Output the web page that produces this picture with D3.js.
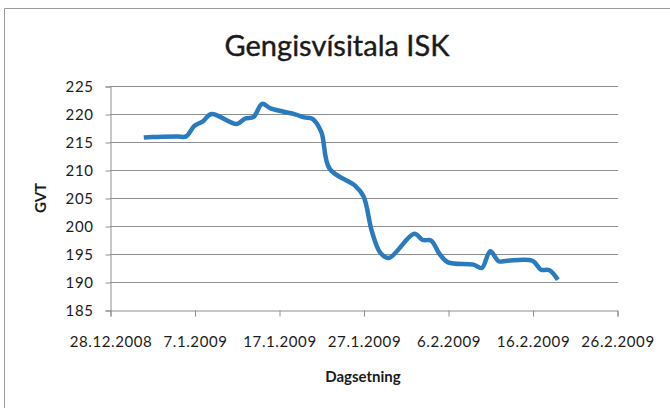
<!DOCTYPE html>
<html><head><meta charset="utf-8">
<script src="https://cdn.jsdelivr.net/npm/d3@7"></script>
<style>
html,body{margin:0;padding:0;background:#fff;}
svg{display:block;}
text{font-family:Lato,"Open Sans",sans-serif;fill:#1a1a1a;}
</style></head>
<body>
<svg id="c" width="670" height="408"></svg>
<script>
const title = "Gengisvísitala ISK";
const xTitle = "Dagsetning";
const yTitle = "GVT";
const dates = ["1.1.2009","2.1.2009","5.1.2009","6.1.2009","7.1.2009","8.1.2009","9.1.2009",
  "12.1.2009","13.1.2009","14.1.2009","15.1.2009","16.1.2009","19.1.2009","20.1.2009","21.1.2009",
  "22.1.2009","23.1.2009","26.1.2009","27.1.2009","28.1.2009","29.1.2009","30.1.2009","2.2.2009",
  "3.2.2009","4.2.2009","5.2.2009","6.2.2009","9.2.2009","10.2.2009","11.2.2009","12.2.2009",
  "13.2.2009","16.2.2009","17.2.2009","18.2.2009","19.2.2009"];
const values = [215.8,215.9,216.0,216.0,217.9,218.7,220.0,
  218.2,219.2,219.5,221.8,221.0,219.9,219.4,219.1,
  216.8,210.2,207.2,205.3,199.0,195.2,194.3,198.6,
  197.5,197.4,195.0,193.5,193.1,192.5,195.5,193.7,
  193.8,193.8,192.2,192.1,190.4];
const xTickLabels = ["28.12.2008","7.1.2009","17.1.2009","27.1.2009","6.2.2009","16.2.2009","26.2.2009"];
const yTickValues = [185,190,195,200,205,210,215,220,225];

const parse = d3.timeParse("%d.%m.%Y");
const fmt = d3.timeFormat("%-d.%-m.%Y");
const data = dates.map((d,i)=>({date:parse(d), v:values[i]}));
const xTicks = xTickLabels.map(parse);

const svg = d3.select("#c");
const L=110, R=617, T=86, B=310;
const x = d3.scaleTime().domain([xTicks[0], xTicks[xTicks.length-1]]).range([L,R]);
const y = d3.scaleLinear().domain([185,225]).range([B,T]);

// chart border (top & left visible)
svg.append("path").attr("d","M4.5,408 V8.5 H670").attr("fill","none").attr("stroke","#9a9a9a").attr("stroke-width",1);

// title
svg.append("text").attr("x",337).attr("y",56).attr("text-anchor","middle")
  .style("font-size","29px").attr("stroke","#1a1a1a").attr("stroke-width",0.4).text(title);

// gridlines
svg.append("g").selectAll("line").data(yTickValues.filter(v=>v>185)).join("line")
  .attr("x1",L).attr("x2",R+1).attr("y1",d=>Math.round(y(d))+0.5).attr("y2",d=>Math.round(y(d))+0.5)
  .attr("stroke","#8e8e8e").attr("stroke-width",1);

// y axis
const yAxis = d3.axisLeft(y).tickValues(yTickValues).tickSize(5).tickPadding(12).tickFormat(d3.format("d"));
const gy = svg.append("g").attr("transform",`translate(${L+0.5},0.5)`).call(yAxis);
gy.select(".domain").attr("stroke","#8e8e8e");
gy.selectAll(".tick line").attr("stroke","#8e8e8e");
gy.selectAll(".tick text").style("font-size","15px").style("letter-spacing","0.6px").attr("fill","#1a1a1a").style("font-family","Lato,sans-serif");

// x axis
const xAxis = d3.axisBottom(x).tickValues(xTicks).tickSize(6).tickPadding(20).tickFormat(fmt);
const gx = svg.append("g").attr("transform",`translate(0.5,${B+0.5})`).call(xAxis);
gx.select(".domain").attr("stroke","#8e8e8e");
gx.selectAll(".tick line").attr("stroke","#8e8e8e");
gx.selectAll(".tick text").style("font-size","15px").style("letter-spacing","0.6px").attr("fill","#1a1a1a").style("font-family","Lato,sans-serif");

// axis titles
svg.append("text").attr("x",363).attr("y",382).attr("text-anchor","middle")
  .style("font-size","15px").style("font-weight","bold").text(xTitle);
svg.append("text").attr("transform","translate(46,198) rotate(-90)").attr("text-anchor","middle")
  .style("font-size","15px").style("font-weight","bold").text(yTitle);

// line
const line = d3.line().x(d=>x(d.date)).y(d=>y(d.v)).curve(d3.curveCatmullRom.alpha(0.5));
svg.append("path").datum(data).attr("d",line).attr("fill","none")
  .attr("stroke","#2a7bbd").attr("stroke-width",4.5).attr("stroke-linejoin","round");
</script>
</body></html>
